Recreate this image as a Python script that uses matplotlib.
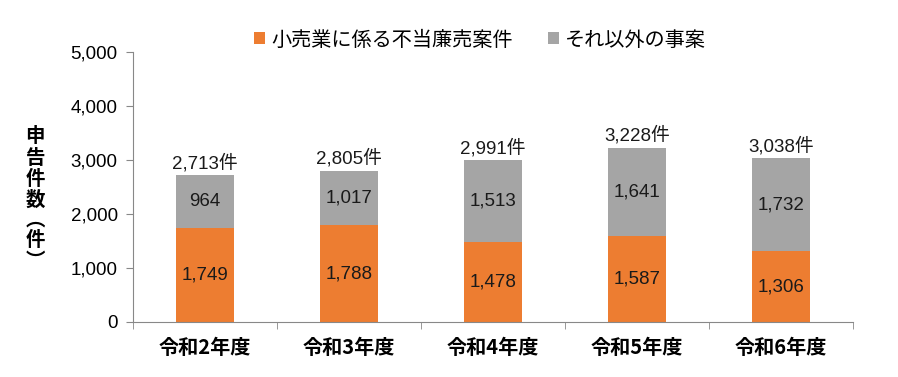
import matplotlib
matplotlib.use("Agg")
import matplotlib.pyplot as plt
import numpy as np
from matplotlib.ticker import FuncFormatter, FixedLocator

categories = ["令和2年度", "令和3年度", "令和4年度", "令和5年度", "令和6年度"]
retail = [1749, 1788, 1478, 1587, 1306]
other = [964, 1017, 1513, 1641, 1732]
totals = [2713, 2805, 2991, 3228, 3038]
series_names = ["小売業に係る不当廉売案件", "それ以外の事案"]
colors = ["#ED7D31", "#A5A5A5"]

FONT = ["Liberation Sans", "Noto Sans CJK JP", "DejaVu Sans"]
plt.rcParams['font.family'] = FONT

fig = plt.figure(figsize=(8.98, 3.77), dpi=100)
ax = fig.add_axes([133 / 898, 1 - 322 / 377, 720 / 898, 270 / 377])

x = np.arange(len(categories))
w = 0.4
b1 = ax.bar(x, retail, w, color=colors[0], label=series_names[0])
b2 = ax.bar(x, other, w, bottom=retail, color=colors[1], label=series_names[1])

for i in range(len(categories)):
    ax.text(x[i], retail[i] / 2, f"{retail[i]:,}", ha="center", va="center", fontsize=13.5, color="#1a1a1a")
    ax.text(x[i], retail[i] + other[i] / 2, f"{other[i]:,}", ha="center", va="center", fontsize=13.5, color="#1a1a1a")
    ax.text(x[i], totals[i] + 50, f"{totals[i]:,}件", ha="center", va="bottom", fontsize=13.5, color="#1a1a1a")

ax.set_xlim(-0.5, len(categories) - 0.5)
ax.set_ylim(0, 5000)
ax.set_yticks(np.arange(0, 5001, 1000))
ax.yaxis.set_major_formatter(FuncFormatter(lambda v, p: f"{int(v):,}"))
ax.tick_params(axis="y", labelsize=13.5, length=5, color="#888888", pad=6)

ax.set_xticks(x)
ax.set_xticklabels(categories, fontsize=14.5, fontweight="bold", family=["Noto Sans CJK JP"])
ax.tick_params(axis="x", length=0, pad=11)
ax.xaxis.set_minor_locator(FixedLocator(np.arange(-0.5, len(categories), 1.0)))
ax.tick_params(axis="x", which="minor", length=5, color="#888888")

for s in ["top", "right"]:
    ax.spines[s].set_visible(False)
for s in ["left", "bottom"]:
    ax.spines[s].set_color("#888888")

# vertical y-axis label, one character per line (vertical-form parentheses)
ylabel_chars = ["申", "告", "件", "数", "︵", "件", "︶"]
ylabel_pos = [137, 158, 179, 200, 220, 240, 261]
for ch, py in zip(ylabel_chars, ylabel_pos):
    fig.text(35 / 898, 1 - py / 377, ch, ha="center", va="center",
             fontsize=14, fontweight="bold", family=["Noto Sans CJK JP"])

leg = fig.legend(handles=[b1, b2], loc="center", bbox_to_anchor=(480 / 898, 1 - 40 / 377),
                 ncol=2, frameon=False, handlelength=0.55, handleheight=0.55,
                 handletextpad=0.3, columnspacing=1.75, prop={"family": ["Noto Sans CJK JP"], "size": 14.5})

fig.savefig("out.png", dpi=100)
